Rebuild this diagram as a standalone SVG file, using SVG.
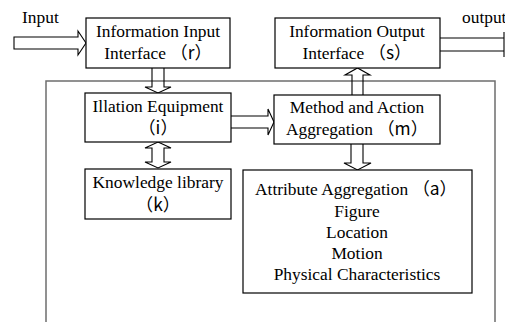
<svg xmlns="http://www.w3.org/2000/svg" width="505" height="322" viewBox="0 0 505 322">
  <style>
    .box { fill: #fff; stroke: #000; stroke-width: 1.2; }
    .frame { fill: none; stroke: #6e6e6e; stroke-width: 1.5; }
    .arrow { fill: none; stroke: #000; stroke-width: 1.1; stroke-linejoin: miter; }
    .t { text-anchor: middle; }
  </style>

  <rect width="505" height="322" fill="#fff"/>

  <!-- open-bottom frame around the processing part -->
  <path class="frame" d="M46,330 V81 H495 V330"/>

  <!-- connectors: hollow block arrows -->
  <g id="connectors">
    <!-- external input -->
    <path class="arrow" d="M14,37 H78 V31 L86,43 L78,55 V49 H14 Z"/>
    <!-- external output (head runs off the edge) -->
    <path class="arrow" d="M440,38 H504 M440,51 H504 M504,32 V57"/>
    <!-- r -> i -->
    <path class="arrow" d="M152,68 V87 H145 L158,93 L171,87 H164 V68"/>
    <!-- i <-> k -->
    <path class="arrow" d="M158,142 L171,148 H164 V162 H171 L158,168 L145,162 H152 V148 H145 Z"/>
    <!-- i -> m -->
    <path class="arrow" d="M231,116 H268 V109 L274,122 L268,135 V128 H231"/>
    <!-- m -> s -->
    <path class="arrow" d="M352,95 V75 H345 L357.5,68 L370,75 H363 V95"/>
    <!-- m -> a -->
    <path class="arrow" d="M351,144 V163 H344 L357.5,170 L371,163 H363 V144"/>
  </g>

  <g font-family="'Liberation Serif', 'Times New Roman', serif" font-size="17.4" fill="#000">
  <text x="22" y="23">Input</text>
  <text x="462" y="23">output</text>

  <g id="input-interface">
    <rect class="box" x="86" y="18" width="144" height="50"/>
    <text class="t" x="158" y="37">Information Input</text>
    <text class="t" x="158" y="59">Interface <tspan font-family="'Noto Sans CJK SC', sans-serif">（r）</tspan></text>
  </g>

  <g id="output-interface">
    <rect class="box" x="275" y="18" width="165" height="50"/>
    <text class="t" x="357" y="37">Information Output</text>
    <text class="t" x="357" y="59">Interface <tspan font-family="'Noto Sans CJK SC', sans-serif">（s）</tspan></text>
  </g>

  <g id="illation">
    <rect class="box" x="85" y="93" width="146" height="49"/>
    <text class="t" x="158" y="112">Illation Equipment</text>
    <text class="t" x="158" y="134" font-family="'Noto Sans CJK SC', sans-serif">（i）</text>
  </g>

  <g id="knowledge">
    <rect class="box" x="85" y="169" width="146" height="50"/>
    <text class="t" x="158" y="188">Knowledge library</text>
    <text class="t" x="158" y="211" font-family="'Noto Sans CJK SC', sans-serif">（k）</text>
  </g>

  <g id="method">
    <rect class="box" x="274" y="95" width="166" height="49"/>
    <text class="t" x="357" y="113">Method and Action</text>
    <text class="t" x="357" y="135">Aggregation <tspan font-family="'Noto Sans CJK SC', sans-serif">（m）</tspan></text>
  </g>

  <g id="attribute">
    <rect class="box" x="243" y="170" width="229" height="123"/>
    <text class="t" x="356" y="195">Attribute Aggregation <tspan font-family="'Noto Sans CJK SC', sans-serif">（a）</tspan></text>
    <text class="t" x="357" y="217">Figure</text>
    <text class="t" x="357" y="238">Location</text>
    <text class="t" x="357" y="259">Motion</text>
    <text class="t" x="357" y="280">Physical Characteristics</text>
  </g>
  </g>
</svg>
